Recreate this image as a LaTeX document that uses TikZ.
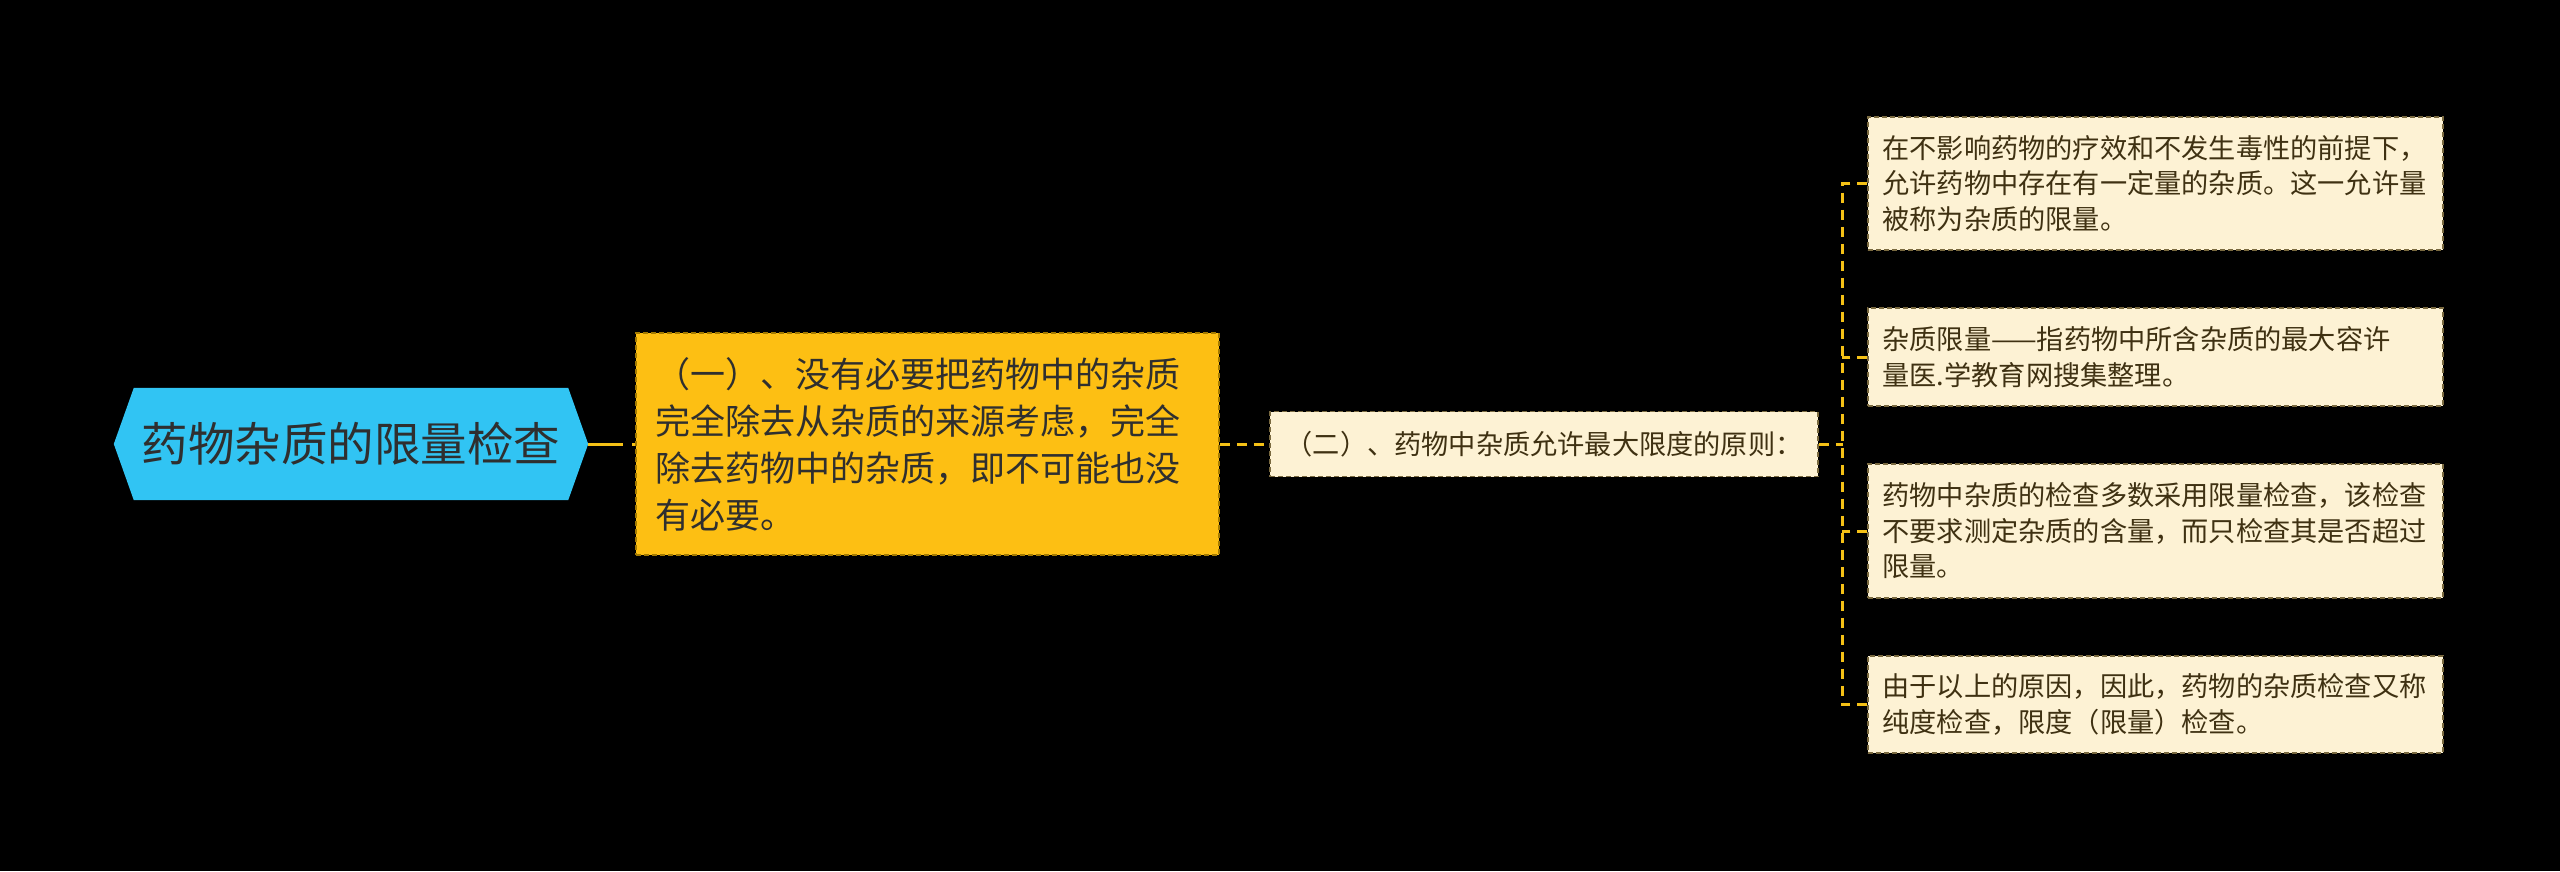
\documentclass[tikz,border=0pt]{standalone}
\usepackage{fontspec}
\newfontfamily\cjk{Noto Sans CJK SC}
\usetikzlibrary{backgrounds}
\definecolor{rootblue}{HTML}{31C4F3}
\definecolor{amber}{HTML}{FDBF13}
\definecolor{amberline}{HTML}{A37A00}
\definecolor{cream}{HTML}{FDF2D4}
\definecolor{creamline}{HTML}{7A6A40}
\definecolor{conncol}{HTML}{F5C116}
\definecolor{darktext}{HTML}{2F2F2F}
\definecolor{browntext}{HTML}{3F3112}
\begin{document}
\begin{tikzpicture}[x=1pt,y=-1pt,
  rootnode/.style={minimum width=474pt, minimum height=112pt, inner sep=0pt,
    font=\cjk\fontsize{46.5pt}{50pt}\selectfont, text=darktext},
  ybox/.style={fill=amber, draw=amberline, line width=1.5pt, dash pattern=on 5pt off 3pt,
    minimum height=222pt, text width=545pt, inner xsep=19pt, inner ysep=0pt, align=left,
    font=\cjk\fontsize{35pt}{47pt}\selectfont, text=darktext},
  mbox/.style={fill=cream, draw=creamline, line width=1.5pt, dash pattern=on 5pt off 3pt,
    minimum width=548pt, minimum height=65pt, inner sep=0pt,
    font=\cjk\fontsize{27.2pt}{35.5pt}\selectfont, text=browntext},
  rbox/.style={fill=cream, draw=creamline, line width=1.5pt, dash pattern=on 5pt off 3pt,
    text width=546pt, inner xsep=14.5pt, inner ysep=0pt, align=left,
    font=\cjk\fontsize{27.2pt}{35.5pt}\selectfont, text=browntext},
  conn0/.style={draw=conncol, line width=3pt, dash pattern=on 35pt off 9pt},
  conn/.style={draw=conncol, line width=3pt, dash pattern=on 10pt off 7pt}
]
\useasboundingbox (0,0) rectangle (2560,871);
\node[rootnode] (root) at (351,444) {药物杂质的限量检查};
\begin{scope}[on background layer]
  \fill[black] (0,0) rectangle (2560,871);
  \fill[rootblue] (root.west) -- ([xshift=20pt]root.north west) -- ([xshift=-20pt]root.north east)
    -- (root.east) -- ([xshift=-20pt]root.south east) -- ([xshift=20pt]root.south west) -- cycle;
\end{scope}
\node[ybox] (y1) at (927.5,444) {（一）、没有必要把药物中的杂质\\完全除去从杂质的来源考虑，完全\\除去药物中的杂质，即不可能也没\\有必要。};
\node[mbox] (mid) at (1544,444) {（二）、药物中杂质允许最大限度的原则：};
\node[rbox, minimum height=133pt] (c1) at (2155.5,183.5) {在不影响药物的疗效和不发生毒性的前提下，\\允许药物中存在有一定量的杂质。这一允许量\\被称为杂质的限量。};
\node[rbox, minimum height=98pt] (c2) at (2155.5,357) {杂质限量——指药物中所含杂质的最大容许\\量医.学教育网搜集整理。};
\node[rbox, minimum height=134pt] (c3) at (2155.5,531) {药物中杂质的检查多数采用限量检查，该检查\\不要求测定杂质的含量，而只检查其是否超过\\限量。};
\node[rbox, minimum height=97pt] (c4) at (2155.5,704.5) {由于以上的原因，因此，药物的杂质检查又称\\纯度检查，限度（限量）检查。};
\coordinate (j) at (1843,444);
\draw[conn0] (root.east) -- (y1.west);
\draw[conn] (y1.east) -- (mid.west);
\draw[conn] (mid.east) -- (j);
\draw[conn] (c1.west) -- ++(-25,0) |- (c4.west);
\draw[conn] (c2.west) -- ++(-25,0);
\draw[conn] (c3.west) -- ++(-25,0);
\end{tikzpicture}
\end{document}
